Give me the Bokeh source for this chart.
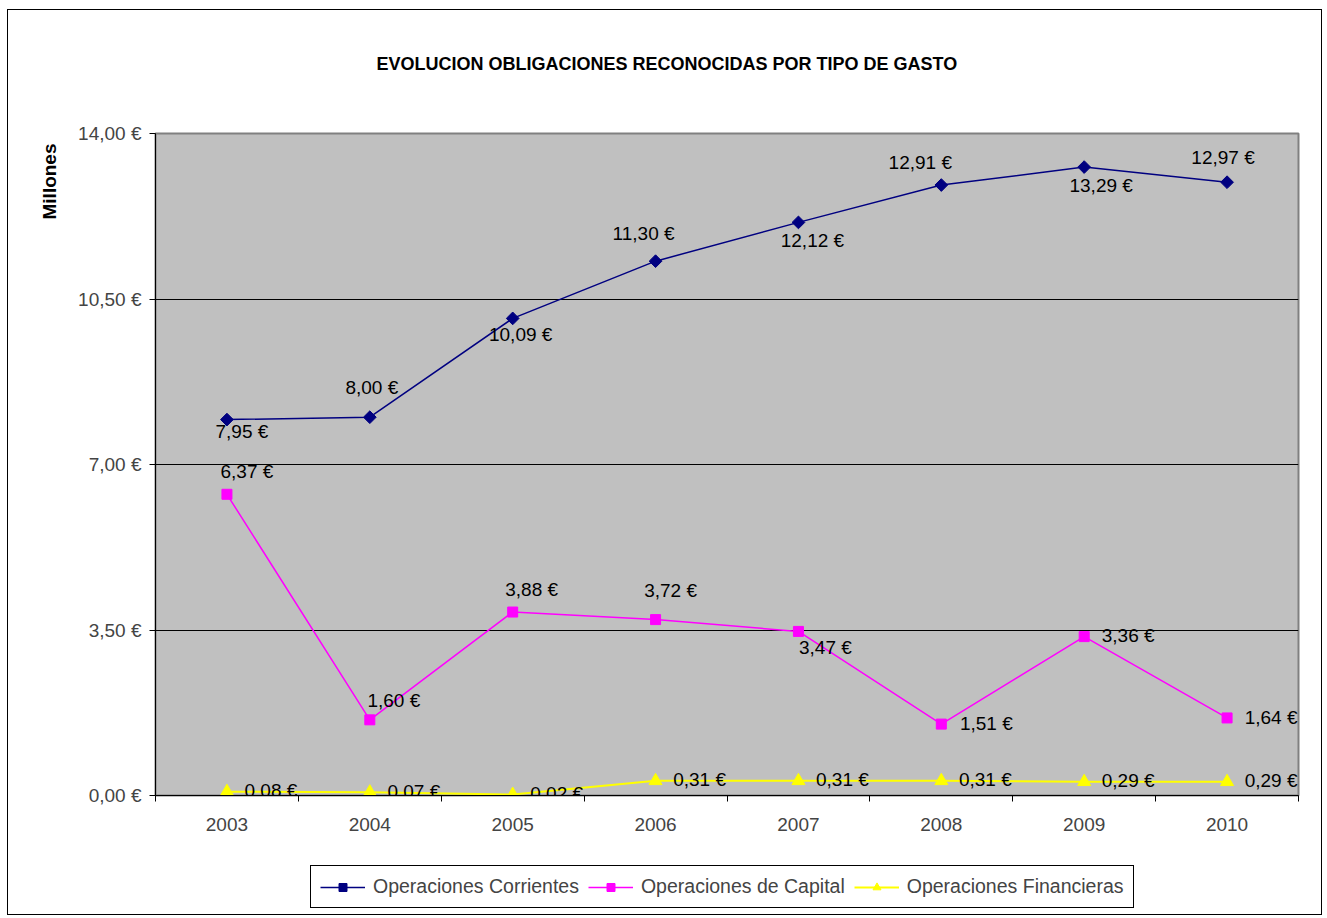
import math
import numpy as np
from bokeh.plotting import figure
from bokeh.layouts import column
from bokeh.models import (Range1d, FixedTicker, CustomJSTickFormatter, ColumnDataSource,
                          LabelSet, Legend, LegendItem, Title)
from bokeh.core.properties import value
from bokeh.embed import file_html
from bokeh.resources import INLINE

# ---------------- data ----------------
years = ["2003", "2004", "2005", "2006", "2007", "2008", "2009", "2010"]
corrientes = [7.95, 8.00, 10.09, 11.30, 12.12, 12.91, 13.29, 12.97]
capital = [6.37, 1.60, 3.88, 3.72, 3.47, 1.51, 3.36, 1.64]
financieras = [0.08, 0.07, 0.02, 0.31, 0.31, 0.31, 0.29, 0.29]
y_ticks = [0, 3.5, 7, 10.5, 14]
title_text = "EVOLUCION OBLIGACIONES RECONOCIDAS POR TIPO DE GASTO"
y_title = "Millones"
series_names = ["Operaciones Corrientes", "Operaciones de Capital", "Operaciones Financieras"]

# ---------------- styles (label placement in px) ----------------
corr_dx = [15, 2, 8, -12, 14, -21, 17, -4]
corr_dy = [-12, 30, -16, 28, -18, 23, -18, 25]
cap_dx = [20, 24, 19, 15, 27, 45, 44, 44]
cap_dy = [23, 19, 23, 29, -16, 1, 1, 0]
fin_dx = [44] * 8
fin_dy = [1] * 8

FONT = "Liberation Sans"
FS = "19px"

def fmt(v):
    return f"{v:.2f}".replace(".", ",") + " €"

xs = list(np.arange(len(years)) + 0.5)

p = figure(width=1313, height=840, output_backend="svg", toolbar_location=None, title=None,
           x_range=Range1d(0, len(years)), y_range=Range1d(0, 14),
           min_border_left=147, min_border_right=23, min_border_top=123, min_border_bottom=55,
           background_fill_color="#C0C0C0", border_fill_color="white")
p.outline_line_color = "#808080"
p.outline_line_width = 2

# y axis
p.yaxis.ticker = FixedTicker(ticks=y_ticks)
p.yaxis.formatter = CustomJSTickFormatter(code="return tick.toFixed(2).replace('.', ',') + ' €';")
p.yaxis.major_label_text_font = FONT
p.yaxis.major_label_text_font_size = FS
p.yaxis.major_tick_out = 6
p.yaxis.major_tick_in = 0
p.yaxis.minor_tick_line_color = None
p.yaxis.axis_line_color = "black"
p.yaxis.major_tick_line_color = "black"
p.yaxis.major_label_standoff = 8

# x axis
p.xaxis.ticker = FixedTicker(ticks=xs, minor_ticks=list(range(len(years) + 1)))
p.xaxis.formatter = CustomJSTickFormatter(args=dict(years=years),
                                          code="return years[Math.floor(tick)];")
p.xaxis.major_label_text_font = FONT
p.xaxis.major_label_text_font_size = FS
p.xaxis.major_tick_line_color = None
p.xaxis.major_tick_out = 0
p.xaxis.major_tick_in = 0
p.xaxis.minor_tick_out = 6
p.xaxis.minor_tick_in = 0
p.xaxis.minor_tick_line_color = "black"
p.xaxis.axis_line_color = "black"
p.xaxis.major_label_standoff = 16

# grid
p.xgrid.grid_line_color = None
p.ygrid.ticker = FixedTicker(ticks=[3.5, 7, 10.5])
p.ygrid.grid_line_color = "black"
p.ygrid.grid_line_width = 1

# legend strip (separate small figure below the chart)
lf = figure(width=1313, height=64, output_backend="svg", toolbar_location=None, title=None,
            x_range=Range1d(0, len(years)), y_range=Range1d(100, 101),
            min_border=0, border_fill_color="white", background_fill_color="white")
lf.outline_line_color = None
lf.axis.visible = False
lf.grid.visible = False

# series
specs = [
    (corrientes, "#000080", dict(marker="square", size=9, angle=math.pi / 4), corr_dx, corr_dy, 1.5),
    (capital, "#FF00FF", dict(marker="square", size=10), cap_dx, cap_dy, 1.5),
    (financieras, "#FFFF00", dict(marker="triangle", size=13), fin_dx, fin_dy, 2),
]
items = []
for (vals, color, mk, dx, dy, lw), name in zip(specs, series_names):
    src = ColumnDataSource(dict(x=xs, y=vals, txt=[fmt(v) for v in vals], dx=dx, dy=dy))
    p.line("x", "y", source=src, line_color=color, line_width=lw)
    p.scatter("x", "y", source=src, fill_color=color, line_color=color, **mk)
    p.add_layout(LabelSet(x="x", y="y", text="txt", source=src, x_offset="dx", y_offset="dy",
                          text_align="center", text_baseline="middle",
                          text_font=value(FONT), text_font_size=FS, text_color="black"))
    # legend sample renderers (same data, outside the strip's visible range)
    l2 = lf.line("x", "y", source=src, line_color=color, line_width=lw)
    s2 = lf.scatter("x", "y", source=src, fill_color=color, line_color=color, **mk)
    items.append(LegendItem(label=name, renderers=[l2, s2]))

legend = Legend(items=items, orientation="horizontal", location=(155, 6),
                label_text_font=FONT, label_text_font_size="19.5px",
                border_line_color="black", border_line_width=1, border_line_alpha=1,
                background_fill_color="white", background_fill_alpha=1,
                glyph_width=45, glyph_height=20, padding=9, spacing=9,
                label_standoff=8, margin=0)
lf.add_layout(legend)

# titles (spacer first, closest to the frame)
p.add_layout(Title(text=" ", text_font_size="1px", standoff=56), "above")
p.add_layout(Title(text=title_text, align="left", offset=221, vertical_align="middle",
                   standoff=0, text_font=FONT, text_font_size="18px", text_font_style="bold",
                   text_color="black"), "above")
p.add_layout(Title(text=y_title, align="right", offset=10, vertical_align="middle",
                   standoff=30, text_font=FONT, text_font_size="19px", text_font_style="bold",
                   text_color="black"), "left")

layout = column(p, lf, spacing=0)
layout.styles = {"border": "1px solid black", "margin-left": "7px", "margin-top": "9px"}

open("out.html", "w").write(file_html(layout, INLINE))
